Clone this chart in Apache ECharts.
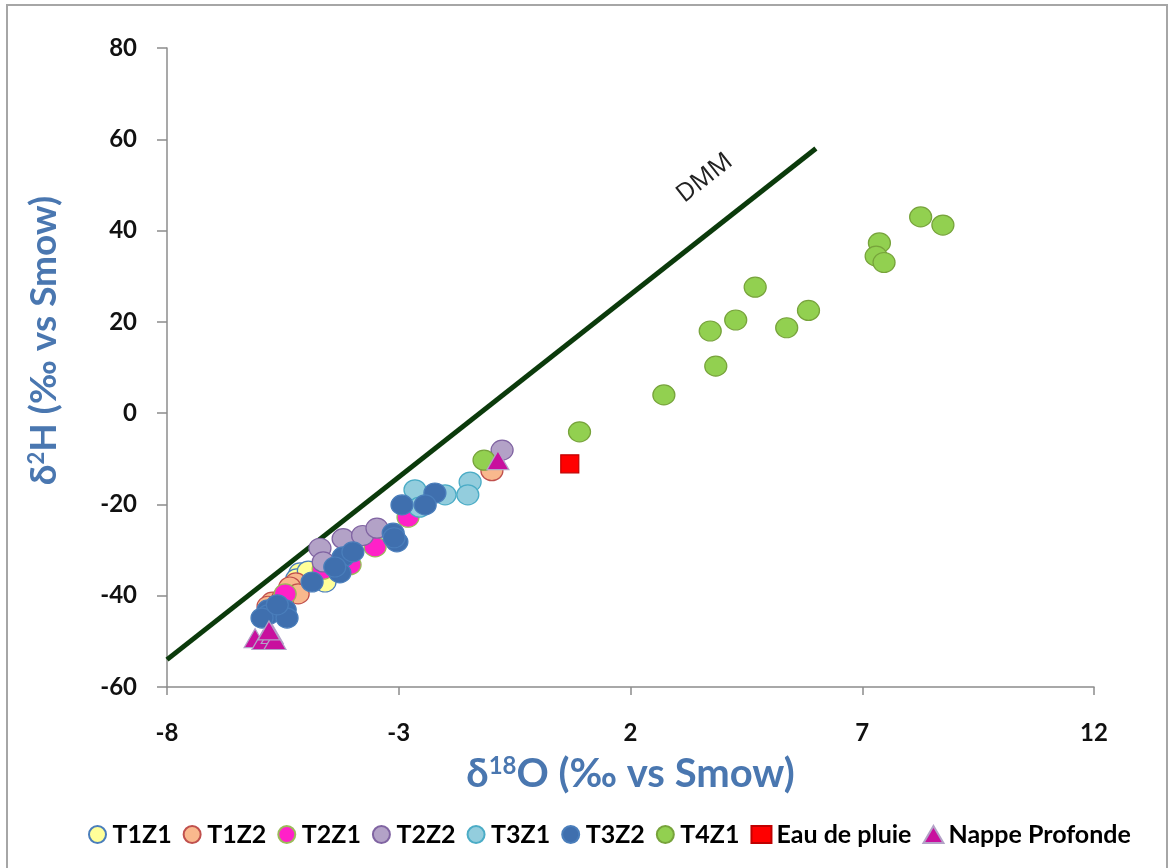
<!DOCTYPE html>
<html>
<head>
<meta charset="utf-8">
<script src="https://cdn.jsdelivr.net/npm/echarts@6/dist/echarts.min.js"></script>
<style>html,body{margin:0;padding:0;background:#fff}#c{width:1173px;height:868px}</style>
</head>
<body>
<div id="c"></div>
<script>
// ---- data ----
var xTicks = [-8, -3, 2, 7, 12];
var yTicks = [-60, -40, -20, 0, 20, 40, 60, 80];
var seriesNames = ['T1Z1', 'T1Z2', 'T2Z1', 'T2Z2', 'T3Z1', 'T3Z2', 'T4Z1', 'Eau de pluie', 'Nappe Profonde'];
var T1Z1 = [[-5.13,-35.0],[-4.74,-35.9],[-4.59,-37.0],[-5.20,-36.3],[-4.95,-34.6]];
var T1Z2 = [[-5.22,-37.2],[-5.35,-38.1],[-5.17,-39.6],[-5.73,-41.4],[-5.82,-42.3],[-5.50,-40.5],[-0.99,-12.6]];
var T2Z1 = [[-5.45,-39.6],[-3.51,-29.3],[-4.05,-33.2],[-2.80,-22.8],[-4.63,-34.2]];
var T2Z2 = [[-4.70,-29.6],[-4.63,-32.6],[-4.20,-27.5],[-3.78,-26.8],[-3.47,-25.2],[-0.77,-8.1]];
var T3Z1 = [[-1.46,-15.1],[-1.51,-17.9],[-2.65,-16.8],[-2.00,-17.9],[-2.55,-20.6]];
var T3Z2 = [[-4.20,-31.5],[-3.99,-30.4],[-4.27,-35.0],[-3.12,-26.3],[-3.04,-28.2],[-3.10,-27.3],[-4.87,-37.0],[-4.38,-33.7],
            [-2.22,-17.5],[-2.43,-20.1],[-2.93,-20.1],
            [-5.82,-43.1],[-5.45,-43.1],[-5.82,-44.2],[-5.41,-44.9],[-5.95,-44.9],[-5.62,-42.0]];
var T4Z1 = [[-1.16,-10.3],[0.90,-4.1],[2.72,4.0],[3.84,10.3],[3.72,18.0],[4.27,20.4],[4.69,27.6],[5.37,18.7],[5.84,22.5],
            [7.37,37.3],[7.30,34.4],[7.47,33.0],[8.26,43.0],[8.74,41.2]];
var EauDePluie = [[0.69,-11.1]];
var NappeProfonde = [[-0.86,-10.3],[-6.10,-49.3],[-5.93,-49.7],[-5.73,-48.4],[-5.67,-49.7],[-5.80,-47.6]];
var DMM = [[-8,-54],[6,58]];
var dmmLabel = 'DMM';

var chart = echarts.init(document.getElementById('c'), null, {renderer:'canvas'});
var FONT = 'Lato, "Open Sans", sans-serif';
var AX = '#8c8c8c';
var TITLE_C = '#4a77b0';

function sc(name, data, fill, border, symbol, size) {
  return {
    name: name, type: 'scatter', data: data,
    symbol: symbol || 'circle', symbolSize: size || [22, 20],
    itemStyle: {color: fill, borderColor: border, borderWidth: 1.2, opacity: 1},
    emphasis: {disabled: true}, z: 3
  };
}

var option = {
  animation: false,
  backgroundColor: '#fff',
  grid: {left: 167, right: 79, top: 48, bottom: 181, containLabel: false},
  xAxis: {
    type: 'value', min: xTicks[0], max: xTicks[xTicks.length-1], interval: 5,
    axisLine: {show: true, onZero: false, lineStyle: {color: AX, width: 1.5}},
    axisTick: {show: true, length: 8, lineStyle: {color: AX, width: 1.5}},
    splitLine: {show: false},
    axisLabel: {margin: 34, color: '#111', fontFamily: FONT, fontWeight: 'bold', fontSize: 24},
    name: '{a|δ}{s|18}{a|O (‰ vs Smow)}', nameLocation: 'middle', nameGap: 67,
    nameTextStyle: {rich: {
      a: {color: TITLE_C, fontFamily: FONT, fontWeight: 'bold', fontSize: 40},
      s: {color: TITLE_C, fontFamily: FONT, fontWeight: 'bold', fontSize: 24, verticalAlign: 'top', padding: [0,0,14,0]}
    }}
  },
  yAxis: {
    type: 'value', min: yTicks[0], max: yTicks[yTicks.length-1], interval: 20,
    axisLine: {show: true, onZero: false, lineStyle: {color: AX, width: 1.5}},
    axisTick: {show: true, length: 10, lineStyle: {color: AX, width: 1.5}},
    splitLine: {show: false},
    axisLabel: {margin: 30, color: '#111', fontFamily: FONT, fontWeight: 'bold', fontSize: 24},
    name: '{a|δ}{s|2}{a|H (‰ vs Smow)}', nameLocation: 'middle', nameGap: 104,
    nameTextStyle: {padding: [0, 0, 0, 54], rich: {
      a: {color: TITLE_C, fontFamily: FONT, fontWeight: 'bold', fontSize: 37},
      s: {color: TITLE_C, fontFamily: FONT, fontWeight: 'bold', fontSize: 22, verticalAlign: 'top', padding: [0,0,13,0]}
    }}
  },
  legend: {
    top: 817, left: 83, itemGap: 11, itemWidth: 20, itemHeight: 17,
    textStyle: {color: '#000', fontFamily: FONT, fontWeight: 'bold', fontSize: 25},
    data: seriesNames.map(function(n){return {name:n};})
  },
  series: [
    {
      name: 'DMM', type: 'line', data: DMM, symbol: 'none', silent: true,
      lineStyle: {color: '#0b3a0b', width: 5}, z: 2
    },
    sc(seriesNames[0], T1Z1, '#ffff99', '#4a7ebb'),
    sc(seriesNames[1], T1Z2, '#f9b88d', '#c0504d'),
    sc(seriesNames[2], T2Z1, '#ff21c8', '#9bbb59'),
    sc(seriesNames[3], T2Z2, '#b3a2c7', '#8064a2'),
    sc(seriesNames[4], T3Z1, '#93cddd', '#4bacc6'),
    sc(seriesNames[5], T3Z2, '#3f6fae', '#4a7ebb'),
    sc(seriesNames[6], T4Z1, '#92d050', '#77a33b'),
    sc(seriesNames[7], EauDePluie, '#ff0000', '#c00000', 'rect', [18, 18]),
    sc(seriesNames[8], NappeProfonde, '#c8109e', '#b3a2c7', 'triangle', [22, 19])
  ]
};
chart.setOption(option);

var p = chart.convertToPixel({gridIndex: 0}, [3.6, 51.5]);
chart.setOption({
  graphic: [
    {type: 'rect', shape: {x: 7, y: 5, width: 1160, height: 870}, style: {fill: 'none', stroke: '#a6a6a6', lineWidth: 2}, silent: true, z: 0},
    {type: 'text', x: p[0], y: p[1], rotation: 38.2 * Math.PI / 180,
     style: {text: dmmLabel, font: '25px "Open Sans", sans-serif', fill: '#222', align: 'center', verticalAlign: 'middle'}, z: 10}
  ]
});
</script>
</body>
</html>
